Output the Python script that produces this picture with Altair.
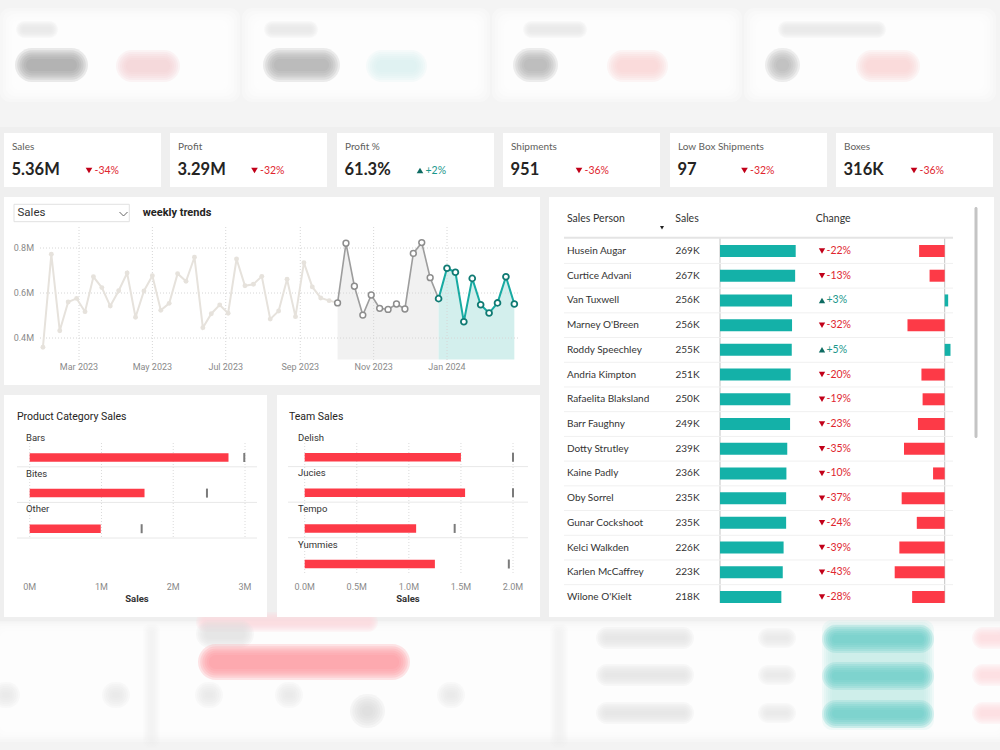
import altair as alt
import pandas as pd

BODY = "Segoe UI, Lato, sans-serif"
DIN = "DIN, Liberation Sans Narrow, Roboto, sans-serif"

RED = "#fd3a47"
TEAL = "#14b1a8"
RED_TXT = "#e0262f"
RED_ARROW = "#c10019"
TEAL_TXT = "#1a978c"
TEAL_ARROW = "#0e6b62"

# ---------------- data ----------------
kpi_titles = ["Sales", "Profit", "Profit %", "Shipments", "Low Box Shipments", "Boxes"]
kpi_values = ["5.36M", "3.29M", "61.3%", "951", "97", "316K"]
kpi_change = [-34, -32, 2, -36, -32, -36]

# weekly sales in millions, one value per week (weeks start on Monday)
first_week = "2023-01-30"
weekly_sales = [
    0.359, 0.772, 0.432, 0.560, 0.576, 0.517, 0.672, 0.624, 0.542, 0.610,
    0.689, 0.492, 0.609, 0.677, 0.523, 0.554, 0.686, 0.652, 0.759, 0.446,
    0.508, 0.547, 0.510, 0.751, 0.632, 0.639, 0.674, 0.484, 0.520, 0.661,
    0.495, 0.735, 0.627, 0.578, 0.566, 0.556, 0.821, 0.630, 0.502, 0.591,
    0.532, 0.527, 0.551, 0.529, 0.776, 0.824, 0.668, 0.575, 0.710, 0.692,
    0.472, 0.665, 0.548, 0.511, 0.556, 0.672, 0.551,
]
prior_from = 35    # first week of the comparison period
current_from = 47  # first week of the current period
month_starts = ["2023-03-01", "2023-05-01", "2023-07-01", "2023-09-01", "2023-11-01", "2024-01-01"]
month_labels = ["Mar 2023", "May 2023", "Jul 2023", "Sep 2023", "Nov 2023", "Jan 2024"]
trend_ticks = [0.4, 0.6, 0.8]
trend_tick_labels = ["0.4M", "0.6M", "0.8M"]

categories = ["Bars", "Bites", "Other"]
category_sales = [2.77, 1.60, 0.99]
category_target = [2.99, 2.47, 1.56]
category_ticks = [0, 1, 2, 3]
category_tick_labels = ["0M", "1M", "2M", "3M"]

teams = ["Delish", "Jucies", "Tempo", "Yummies"]
team_sales = [1.50, 1.54, 1.07, 1.25]
team_target = [2.00, 2.00, 1.44, 1.96]
team_ticks = [0, 0.5, 1.0, 1.5, 2.0]
team_tick_labels = ["0.0M", "0.5M", "1.0M", "1.5M", "2.0M"]

people = [
    "Husein Augar", "Curtice Advani", "Van Tuxwell", "Marney O'Breen", "Roddy Speechley",
    "Andria Kimpton", "Rafaelita Blaksland", "Barr Faughny", "Dotty Strutley", "Kaine Padly",
    "Oby Sorrel", "Gunar Cockshoot", "Kelci Walkden", "Karlen McCaffrey", "Wilone O'Kielt",
]
person_sales = [269, 267, 256, 256, 255, 251, 250, 249, 239, 236, 235, 235, 226, 223, 218]
person_change = [-22, -13, 3, -32, 5, -20, -19, -23, -35, -10, -37, -24, -39, -43, -28]

# ---------------- helpers ----------------
ONE = pd.DataFrame({"k": [0]})
layers = []


def S(domain, rng):
    return alt.Scale(domain=domain, range=rng, nice=False, zero=False)


def box(x0, y0, x1, y1, fill, opacity=1.0, radius=0, stroke=None, width=1):
    mark = dict(fill=fill, opacity=opacity, cornerRadius=radius)
    if stroke:
        mark.update(stroke=stroke, strokeWidth=width)
    return alt.Chart(ONE).mark_rect(**mark).encode(
        x=alt.value(x0), x2=alt.value(x1), y=alt.value(y0), y2=alt.value(y1))


def text(x, y, s, size, color="#333333", font=BODY, weight="normal", align="left"):
    return alt.Chart(ONE).mark_text(
        text=s, fontSize=size, color=color, font=font, fontWeight=weight,
        align=align, baseline="middle").encode(x=alt.value(x), y=alt.value(y))


def seg(x0, y0, x1, y1, color, width=1, dash=None):
    mark = dict(color=color, strokeWidth=width)
    if dash:
        mark["strokeDash"] = dash
    return alt.Chart(ONE).mark_rule(**mark).encode(
        x=alt.value(x0), x2=alt.value(x1), y=alt.value(y0), y2=alt.value(y1))


def arrow(x, y, up, size=42, color=None):
    return alt.Chart(ONE).mark_point(
        shape="triangle-up" if up else "triangle-down", filled=True, size=size, opacity=1,
        color=color or (TEAL_ARROW if up else RED_ARROW)).encode(x=alt.value(x), y=alt.value(y))


def haze(x0, y0, x1, y1, color, blur=7, steps=6, alpha=0.22, radius=None):
    """Soft, out-of-focus patch: nested rounded boxes that fade towards the edge."""
    out = []
    for k in range(steps):
        d = blur * k / (steps - 1)
        a0, b0, a1, b1 = x0 + d, y0 + d, x1 - d, y1 - d
        if a1 <= a0 or b1 <= b0:
            break
        r = radius if radius is not None else (b1 - b0) / 2
        out.append(box(a0, b0, a1, b1, color, opacity=alpha, radius=r))
    return out


# ---------------- out-of-focus strip above ----------------
layers.append(box(0, 0, 1000, 127, "#f4f4f4"))
for a, b in [(0, 240), (242, 490), (492, 742), (744, 996)]:
    layers += haze(a, 8, b, 102, "#ffffff", blur=14, alpha=0.3, radius=10)
for a, b in [(16, 58), (264, 318), (523, 587), (778, 886)]:
    layers += haze(a, 21, b, 38, "#e4e4e4", blur=6, alpha=0.18)
for (a, b, c) in [(15, 88, "#9a9a9a"), (263, 340, "#a6a6a6"), (513, 558, "#ababab"), (765, 800, "#b0b0b0")]:
    layers += haze(a, 48, b, 82, c, blur=11, alpha=0.2)
for (a, b, c) in [(116, 180, "#f7cdd0"), (366, 427, "#d8efef"), (607, 668, "#f8d0d3"), (856, 920, "#f8d0d3")]:
    layers += haze(a, 50, b, 82, c, blur=10, alpha=0.2)

# ---------------- out-of-focus strip below ----------------
layers.append(box(0, 622, 1000, 750, "#f3f3f3"))
layers += haze(-10, 621, 1010, 742, "#ffffff", blur=12, alpha=0.3, radius=8)
layers += haze(143, 624, 160, 748, "#e8e8e8", blur=7, alpha=0.1, radius=6)
layers += haze(550, 624, 568, 748, "#e8e8e8", blur=7, alpha=0.1, radius=6)
layers += haze(196, 612, 378, 632, "#ffd6da", blur=7, alpha=0.2)
layers += haze(196, 620, 254, 648, "#dedede", blur=9, alpha=0.18)
layers += haze(198, 644, 410, 680, "#ff97a0", blur=11, alpha=0.25)
for a in [-8, 102, 195, 275, 437]:
    layers += haze(a, 682, a + 28, 708, "#e6e6e6", blur=10, alpha=0.18)
layers += haze(350, 694, 385, 728, "#d8d8d8", blur=12, alpha=0.2)
layers += haze(822, 620, 934, 730, "#bfe9e6", blur=10, alpha=0.2, radius=10)
for yy in [625, 662, 700]:
    layers += haze(822, yy, 934, yy + 28, "#6bcfc8", blur=10, alpha=0.22)
    layers += haze(596, yy + 2, 694, yy + 24, "#e2e2e2", blur=9, alpha=0.2)
    layers += haze(758, yy + 3, 796, yy + 23, "#e6e6e6", blur=8, alpha=0.2)
    layers += haze(972, yy + 2, 1010, yy + 24, "#ffd9dc", blur=8, alpha=0.2)

# ---------------- KPI cards ----------------
card_left = [4, 170, 337, 503, 670, 836]
arrow_dx = [85, 84.5, 83, 76, 74.5, 78]
for i, x0 in enumerate(card_left):
    up = kpi_change[i] > 0
    layers += [
        box(x0, 133, x0 + 157, 187, "#ffffff"),
        text(x0 + 8, 147.3, kpi_titles[i], 10, "#605e5c"),
        text(x0 + 7.5, 169.5, kpi_values[i], 16.5, "#252423", weight="bold"),
        arrow(x0 + arrow_dx[i], 170.5, up, size=44),
        text(x0 + arrow_dx[i] + 5.5, 170.8, f"{kpi_change[i]:+d}%", 10.5, TEAL_TXT if up else RED_TXT),
    ]

# ---------------- panels ----------------
layers += [
    box(4, 197, 540, 385, "#ffffff"),
    box(4, 395, 267, 617, "#ffffff"),
    box(277, 395, 540, 617, "#ffffff"),
    box(549, 197, 994, 617, "#ffffff"),
]

# ---------------- weekly trend ----------------
weeks = pd.date_range(first_week, periods=len(weekly_sales), freq="7D")
origin = pd.Timestamp(month_starts[0])
trend = pd.DataFrame({"day": [int(d) for d in (weeks - origin).days], "sales": weekly_sales})
past = trend.iloc[: prior_from + 1]
prior = trend.iloc[prior_from: current_from + 1]
current = trend.iloc[current_from:]
months = pd.DataFrame({
    "day": [int((pd.Timestamp(m) - origin).days) for m in month_starts],
    "label": month_labels,
})
ygrid = pd.DataFrame({"v": trend_ticks, "label": trend_tick_labels})
AREA_FLOOR = 0.305

TX = S([int(months.day.iloc[0]), int(months.day.iloc[-1])], [79, 447])
TY = S([0.3, 0.9], [360.5, 225.5])
tx = alt.X("day:Q", scale=TX, axis=None)
ty = alt.Y("sales:Q", scale=TY, axis=None)

trend_layers = [
    alt.Chart(prior).mark_area(color="#f1f1f1", opacity=1).encode(x=tx, y=ty, y2=alt.datum(AREA_FLOOR)),
    alt.Chart(current).mark_area(color="#d3efed", opacity=1).encode(x=tx, y=ty, y2=alt.datum(AREA_FLOOR)),
    alt.Chart(months).mark_rule(color="#d6d6d6", strokeDash=[1, 2]).encode(
        x=tx, y=alt.value(227), y2=alt.value(360)),
    alt.Chart(ygrid).mark_rule(color="#d6d6d6", strokeDash=[1, 2]).encode(
        y=alt.Y("v:Q", scale=TY, axis=None), x=alt.value(40), x2=alt.value(519)),
    alt.Chart(past).mark_line(color="#e6e2dc", strokeWidth=2).encode(x=tx, y=ty),
    alt.Chart(prior).mark_line(color="#9d9d9d", strokeWidth=1.6).encode(x=tx, y=ty),
    alt.Chart(current).mark_line(color="#17aaa2", strokeWidth=2).encode(x=tx, y=ty),
    alt.Chart(past.iloc[:-1]).mark_circle(color="#e6e2dc", size=24, opacity=1).encode(x=tx, y=ty),
    alt.Chart(prior.iloc[:-1]).mark_circle(fill="#ffffff", stroke="#8d8d8d", strokeWidth=1.5,
                                           size=34, opacity=1).encode(x=tx, y=ty),
    alt.Chart(current).mark_circle(fill="#ffffff", stroke="#0f7a73", strokeWidth=1.8,
                                   size=34, opacity=1).encode(x=tx, y=ty),
    alt.Chart(ygrid).mark_text(align="right", baseline="middle", font=DIN, fontSize=9, color="#8a8a8a").encode(
        y=alt.Y("v:Q", scale=TY, axis=None), x=alt.value(34), text="label:N"),
    alt.Chart(months).mark_text(align="center", baseline="middle", font=DIN, fontSize=9, color="#8a8a8a").encode(
        x=tx, y=alt.value(367), text="label:N"),
]
layers.append(alt.layer(*trend_layers))

# dropdown and heading
layers += [
    box(14, 204.3, 129.3, 221.7, "#ffffff", stroke="#e1e1e1", width=1),
    text(17.5, 213, "Sales", 11.5, "#333333", DIN),
    seg(119.5, 212, 123.5, 216, "#666666"),
    seg(123.5, 216, 127.5, 212, "#666666"),
    text(142.7, 213, "weekly trends", 11, "#252423", DIN, "bold"),
]


# ---------------- bullet panels ----------------
def bullet(title, title_x, names, sales, target, ticks, tick_labels, x_range, row_range,
           label_x, sep_span, sep_rows, grid_bottom, axis_title_x):
    n = len(names)
    df = pd.DataFrame({"row": list(range(n)), "name": names, "sales": sales, "target": target})
    tk = pd.DataFrame({"v": ticks, "label": tick_labels})
    BX = S([ticks[0], ticks[-1]], x_range)
    BY = S([0, n - 1], row_range)
    by = alt.Y("row:Q", scale=BY, axis=None)
    parts = [
        alt.Chart(tk).mark_rule(color="#dadada", strokeDash=[1, 2]).encode(
            x=alt.X("v:Q", scale=BX, axis=None), y=alt.value(443), y2=alt.value(grid_bottom)),
        alt.Chart(df.iloc[:sep_rows]).mark_rule(color="#e8e8e8", strokeWidth=1, yOffset=9.3).encode(
            y=by, x=alt.value(sep_span[0]), x2=alt.value(sep_span[1])),
        alt.Chart(df).mark_rule(color=RED, strokeWidth=8.5).encode(
            x=alt.X("sales:Q", scale=BX, axis=None), x2=alt.datum(0), y=by),
        alt.Chart(df).mark_rule(color="#7b7b7b", strokeWidth=2, yOffset=-4.5, y2Offset=4.5).encode(
            x=alt.X("target:Q", scale=BX, axis=None), y=by, y2=alt.Y2("row")),
        alt.Chart(df).mark_text(align="left", baseline="middle", font=DIN, fontSize=9.5,
                                color="#333333", yOffset=-19.4).encode(
            x=alt.value(label_x), y=by, text="name:N"),
        alt.Chart(tk).mark_text(align="center", baseline="middle", font=DIN, fontSize=9,
                                color="#8a8a8a").encode(
            x=alt.X("v:Q", scale=BX, axis=None), y=alt.value(587), text="label:N"),
    ]
    return [alt.layer(*parts),
            text(title_x, 417, title, 10.5, "#252423", DIN),
            text(axis_title_x, 598.5, "Sales", 9.5, "#333333", DIN, "bold", "center")]


layers += bullet("Product Category Sales", 17, categories, category_sales, category_target,
                 category_ticks, category_tick_labels, [29.7, 245], [457.5, 528.7],
                 26, (17, 257), 3, 538, 137)
layers += bullet("Team Sales", 289, teams, team_sales, team_target,
                 team_ticks, team_tick_labels, [304.7, 513], [457.3, 564],
                 298, (288, 528), 3, 575, 408)

# ---------------- sales person table ----------------
tbl = pd.DataFrame({
    "row": list(range(len(people))),
    "name": people,
    "sales": person_sales,
    "change": person_change,
})
tbl["sales_label"] = [f"{v}K" for v in person_sales]
tbl["change_label"] = [f"{v:+d}%" for v in person_change]
neg = tbl[tbl.change < 0]
pos = tbl[tbl.change > 0]

TR = S([0, len(people) - 1], [251, 597])
TS = S([0, max(person_sales)], [720, 795.7])
TC = S([min(person_change), max(person_change)], [894.7, 950.5])
ry = alt.Y("row:Q", scale=TR, axis=None)
sx = alt.X("sales:Q", scale=TS, axis=None)
cx = alt.X("change:Q", scale=TC, axis=None)

text_cols = [
    alt.Chart(tbl.iloc[:-1]).mark_rule(color="#f0f0f0", yOffset=12.4).encode(
        y=ry, x=alt.value(564), x2=alt.value(953)),
    alt.Chart(tbl).mark_text(align="left", baseline="middle", font=BODY, fontSize=10,
                             color="#333333").encode(x=alt.value(567), y=ry, text="name:N"),
    alt.Chart(tbl).mark_text(align="left", baseline="middle", font=BODY, fontSize=10,
                             color="#333333").encode(x=alt.value(675.5), y=ry, text="sales_label:N"),
    alt.Chart(neg).mark_point(shape="triangle-down", filled=True, size=40, opacity=1,
                              color=RED_ARROW).encode(x=alt.value(822), y=ry),
    alt.Chart(pos).mark_point(shape="triangle-up", filled=True, size=40, opacity=1,
                              color=TEAL_ARROW).encode(x=alt.value(822), y=ry),
    alt.Chart(neg).mark_text(align="left", baseline="middle", font=BODY, fontSize=10.5,
                             color=RED_TXT).encode(x=alt.value(826.5), y=ry, text="change_label:N"),
    alt.Chart(pos).mark_text(align="left", baseline="middle", font=BODY, fontSize=10.5,
                             color=TEAL_TXT).encode(x=alt.value(826.5), y=ry, text="change_label:N"),
]
sales_bars = alt.Chart(tbl).mark_rule(color=TEAL, strokeWidth=12).encode(x=sx, x2=alt.datum(0), y=ry)
change_bars = alt.layer(
    alt.Chart(neg).mark_rule(color=RED, strokeWidth=12).encode(x=cx, x2=alt.datum(0), y=ry),
    alt.Chart(pos).mark_rule(color=TEAL, strokeWidth=12).encode(x=cx, x2=alt.datum(0), y=ry),
)
layers += [
    seg(720, 238, 720, 603, "#c4c4c4"),
    seg(944.7, 238, 944.7, 603, "#c4c4c4"),
    alt.layer(*text_cols),
    sales_bars,
    change_bars,
    seg(564, 237.7, 953, 237.7, "#e4e4e4", 2),
    text(567, 219.3, "Sales Person", 10.5, "#333333"),
    text(675.3, 219.3, "Sales", 10.5, "#333333"),
    text(815.7, 219.3, "Change", 10.5, "#333333"),
    arrow(662, 227.7, False, size=16, color="#222222"),
    box(974.5, 207, 977.5, 438, "#c4c4c4", radius=1.5),
]

chart = (
    alt.layer(*layers)
    .resolve_scale(x="independent", y="independent")
    .properties(
        width=1000,
        height=750,
        autosize=alt.AutoSizeParams(type="none"),
        padding=0,
        background="#efefef",
    )
    .configure_view(strokeWidth=0)
)

chart.save("out.html", embed_options={"renderer": "svg", "actions": False})
